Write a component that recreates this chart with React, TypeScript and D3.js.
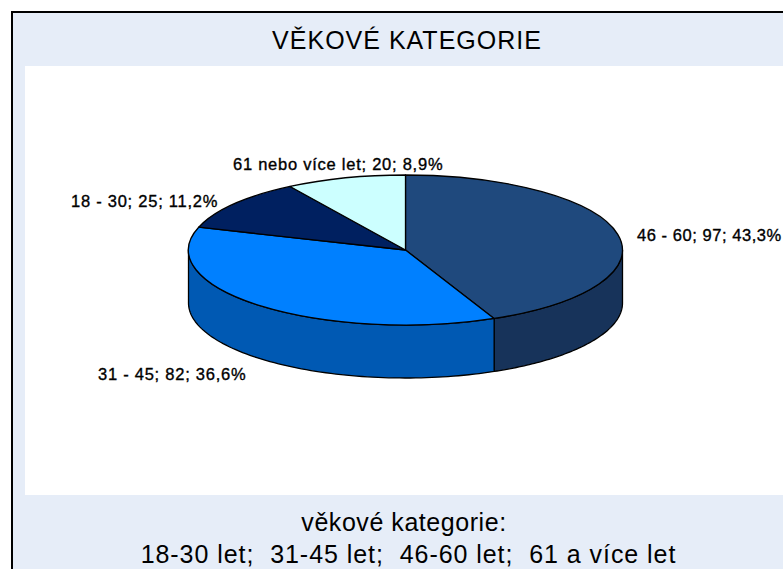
import React from "react";
import * as d3 from "d3";

const categories = ["46 - 60", "31 - 45", "18 - 30", "61 nebo více let"];
const values = [97, 82, 25, 20];
const percents = ["43,3%", "36,6%", "11,2%", "8,9%"];
const topColors = ["#1F497D", "#0080FF", "#002060", "#CCFFFF"];
const sideColors = ["#17335A", "#0059B3", "#001540", "#99BFBF"];
const labelPos: [number, number][] = [[637, 241], [98, 380], [71, 207], [233, 170]];
const labelSpacing = [0.55, 0.75, 0.75, 0.75];

const W = 783, H = 569;
const cx = 405.5, cy = 250, rx = 217, ry = 75, depth = 53;
const FONT = "'Liberation Sans', Arial, sans-serif";

const pie = d3.pie<number>().sort(null).value((d) => d);
const arcs = pie(values);
const arcGen = d3.arc<d3.PieArcDatum<number>>().innerRadius(0).outerRadius(1);
const xS = d3.scaleLinear().domain([-1, 1]).range([cx - rx, cx + rx]);
const yS = d3.scaleLinear().domain([-1, 1]).range([cy - ry, cy + ry]);
const line = d3.line<[number, number]>();

function sidePath(a0: number, a1: number): string | null {
  const s = Math.max(a0, Math.PI / 2), e = Math.min(a1, (3 * Math.PI) / 2);
  if (e <= s) return null;
  const n = 80;
  const angles = d3.range(n + 1).map((i) => s + ((e - s) * i) / n);
  const top = angles.map((a) => [xS(Math.sin(a)), yS(-Math.cos(a))] as [number, number]);
  const bottom = top.map(([x, y]) => [x, y + depth] as [number, number]).reverse();
  return line([...top, ...bottom]) + "Z";
}

export default function App() {
  return (
    <svg width={W} height={H} viewBox={`0 0 ${W} ${H}`} style={{ position: "fixed", left: 0, top: 0, display: "block" }}>
      <rect x={0} y={0} width={W} height={H} fill="#fff" />
      <rect x={12} y={12} width={W + 20} height={H + 20} fill="#E6EDF8" stroke="#000" strokeWidth={2} />
      <rect x={25} y={66} width={W - 25} height={429} fill="#fff" />
      <text x={407} y={49} textAnchor="middle" fontFamily={FONT} fontSize={25} letterSpacing={1} fill="#000">VĚKOVÉ KATEGORIE</text>
      {arcs.map((a, i) => {
        const d = sidePath(a.startAngle, a.endAngle);
        return d ? <path key={i} d={d} fill={sideColors[i]} stroke="#000" strokeWidth={1.3} strokeLinejoin="round" /> : null;
      })}
      <g transform={`translate(${cx},${cy}) scale(${rx},${ry})`}>
        {arcs.map((a, i) => (
          <path key={i} d={arcGen(a) as string} fill={topColors[i]} stroke="#000" strokeWidth={1.3} vectorEffect="non-scaling-stroke" strokeLinejoin="round" />
        ))}
      </g>
      {categories.map((c, i) => (
        <text key={c} x={labelPos[i][0]} y={labelPos[i][1]} fontFamily={FONT} fontSize={16.5} letterSpacing={labelSpacing[i]} stroke="#000" strokeWidth={0.35} fill="#000">
          {`${c}; ${values[i]}; ${percents[i]}`}
        </text>
      ))}
      <text x={404} y={531} textAnchor="middle" fontFamily={FONT} fontSize={25} letterSpacing={0.55} fill="#000">věkové kategorie:</text>
      <text x={408.5} y={563} textAnchor="middle" fontFamily={FONT} fontSize={25} letterSpacing={0.95} fill="#000" xmlSpace="preserve">18-30 let;  31-45 let;  46-60 let;  61 a více let</text>
    </svg>
  );
}
